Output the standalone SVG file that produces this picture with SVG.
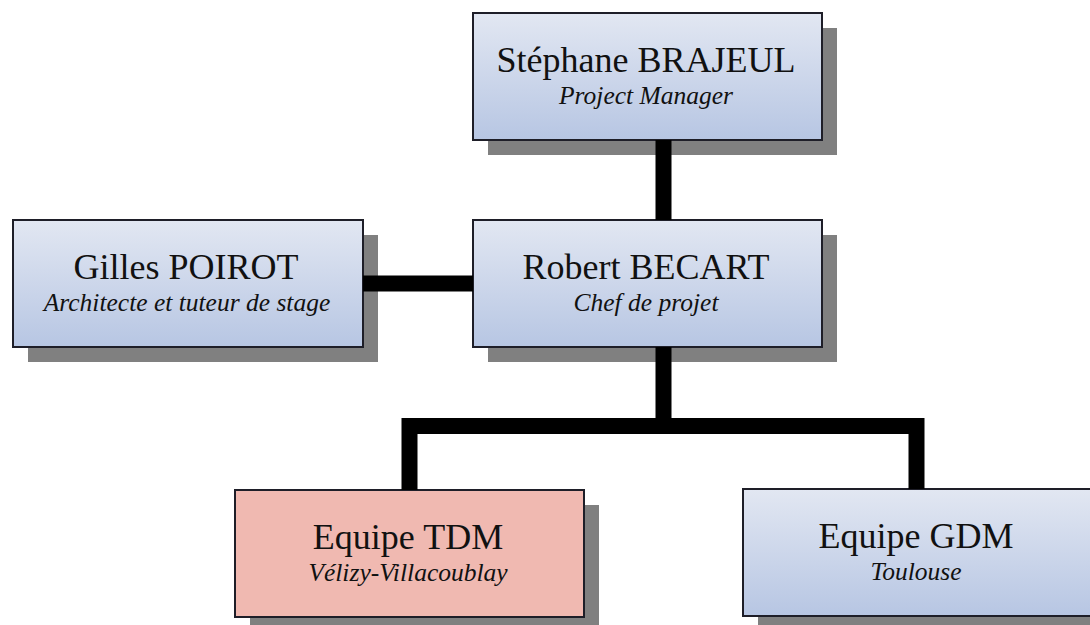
<svg xmlns="http://www.w3.org/2000/svg" width="1090" height="625" viewBox="0 0 1090 625">
<defs>
<linearGradient id="blue" x1="0" y1="0" x2="0" y2="1">
<stop offset="0" stop-color="#e2e7f2"/>
<stop offset="1" stop-color="#b7c6e3"/>
</linearGradient>
<style>
.shadow{fill:#808080}
.box{stroke:#1e1e28;stroke-width:2}
.blue{fill:url(#blue)}
.pink{fill:#f0b9b1}
.title{font-family:"Liberation Serif","Times New Roman",serif;font-size:36px;fill:#111;text-anchor:middle}
.sub{font-family:"Liberation Serif","Times New Roman",serif;font-style:italic;font-size:25.5px;fill:#111;text-anchor:middle}
.conn{fill:none;stroke:#000;stroke-width:16;stroke-linejoin:miter;stroke-linecap:butt}
</style>
</defs>
<rect width="1090" height="625" fill="#ffffff"/>
<g id="node-brajeul">
<rect class="shadow" x="488" y="28" width="349" height="127"/>
<rect class="box blue" x="473" y="13" width="349" height="127"/>
<text class="title" x="646" y="72">Stéphane BRAJEUL</text>
<text class="sub" x="646" y="104">Project Manager</text>
</g>
<g id="node-poirot">
<rect class="shadow" x="28" y="235" width="350" height="127"/>
<rect class="box blue" x="13" y="220" width="350" height="127"/>
<text class="title" x="186" y="279">Gilles POIROT</text>
<text class="sub" x="187" y="311">Architecte et tuteur de stage</text>
</g>
<g id="node-becart">
<rect class="shadow" x="488" y="235" width="349" height="127"/>
<rect class="box blue" x="473" y="220" width="349" height="127"/>
<text class="title" x="646" y="279">Robert BECART</text>
<text class="sub" x="646" y="311">Chef de projet</text>
</g>
<g id="node-tdm">
<rect class="shadow" x="250" y="505" width="349" height="127"/>
<rect class="box pink" x="235" y="490" width="349" height="127"/>
<text class="title" x="408" y="549">Equipe TDM</text>
<text class="sub" x="408" y="581">Vélizy-Villacoublay</text>
</g>
<g id="node-gdm">
<rect class="shadow" x="758" y="504" width="349" height="127"/>
<rect class="box blue" x="743" y="489" width="349" height="127"/>
<text class="title" x="916" y="548">Equipe GDM</text>
<text class="sub" x="916" y="580">Toulouse</text>
</g>
<g id="connectors">
<path class="conn" d="M663.5 140 V220"/>
<path class="conn" d="M363 283.5 H473"/>
<path class="conn" d="M663.5 347 V426"/>
<path class="conn" d="M409.5 490 V426 H916.5 V489"/>
</g>
</svg>
